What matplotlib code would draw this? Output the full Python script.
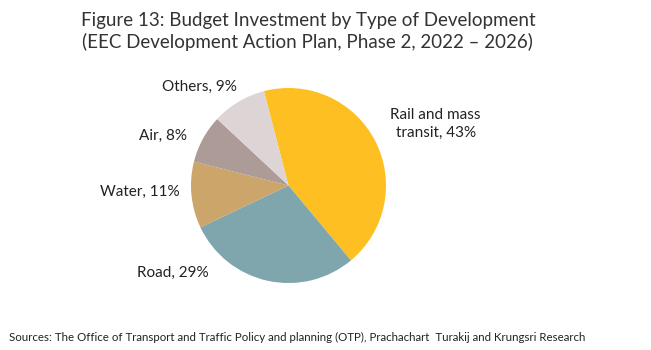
import matplotlib
matplotlib.use("Agg")
import matplotlib.pyplot as plt

# ── data ─────────────────────────────────────
categories = ["Rail and mass\ntransit", "Road", "Water", "Air", "Others"]
shares = [43, 29, 11, 8, 9]
colors = ["#FDBF22", "#7FA5AD", "#CCA56B", "#AD9B97", "#DDD4D5"]

# label anchor points (data units, pie radius = 1)
label_pos = [(1.51, 0.63), (-1.19, -0.90), (-1.53, -0.07), (-1.29, 0.51), (-0.91, 1.01)]

plt.rcParams["font.family"] = ["Lato", "DejaVu Sans"]

fig = plt.figure(figsize=(6.51, 3.5), dpi=100)
L = 1.5
ax = fig.add_axes([0.2185, 0.0521, 0.4493, 0.8357])

ax.pie(shares, colors=colors, startangle=104.6, counterclock=False,
       radius=1.0, wedgeprops=dict(linewidth=0))
ax.set_xlim(-L, L)
ax.set_ylim(-L, L)
ax.set_aspect("equal")
ax.axis("off")

for name, val, (x, y) in zip(categories, shares, label_pos):
    ax.text(x, y, f"{name}, {val}%", ha="center", va="center",
            fontsize=11, color="#222222", linespacing=1.3)

fig.text(0.473, 0.91, "Figure 13: Budget Investment by Type of Development\n"
         "(EEC Development Action Plan, Phase 2, 2022 – 2026)",
         ha="center", va="center", fontsize=13.5, color="#333333", linespacing=1.2)

fig.text(0.014, 0.035, "Sources: The Office of Transport and Traffic Policy and planning (OTP), "
         "Prachachart  Turakij and Krungsri Research",
         ha="left", va="center", fontsize=8.3, color="#222222")

fig.savefig("out.png", dpi=100, facecolor="white")
